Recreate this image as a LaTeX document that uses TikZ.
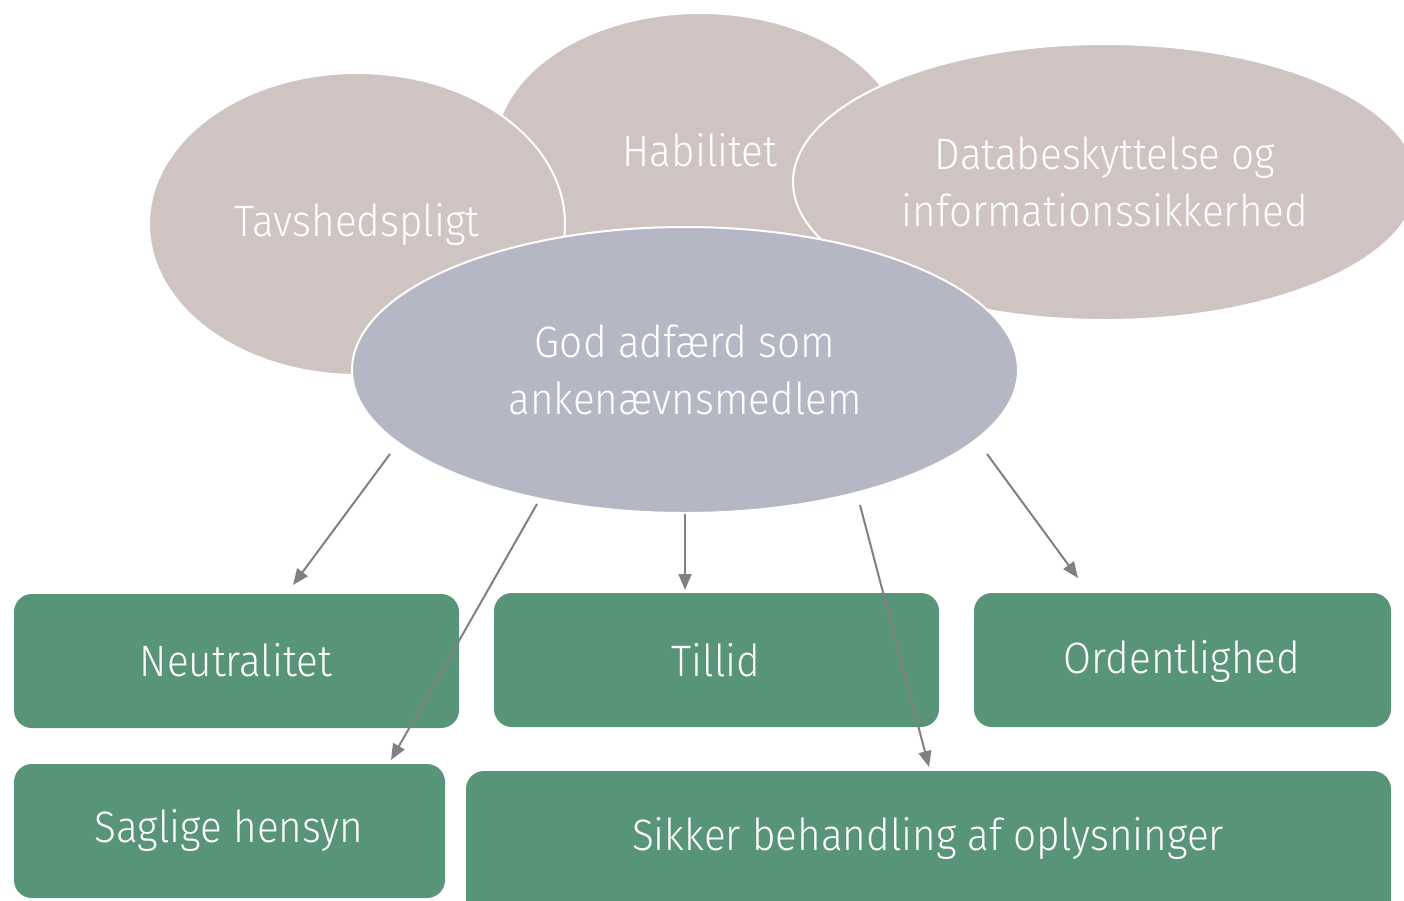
\documentclass[tikz,border=0pt]{standalone}
\usepackage{fontspec}
\setmainfont{Fira Sans}[UprightFont={* Light}, FakeStretch=0.92]
\usetikzlibrary{arrows.meta,shapes.geometric}
\definecolor{beige}{HTML}{D0C4C2}
\definecolor{lav}{HTML}{B6B7C4}
\definecolor{grn}{HTML}{589478}
\definecolor{arr}{HTML}{808080}
\tikzset{
  blob/.style={ellipse, draw=white, line width=2pt, fill=beige, inner sep=0pt,
    text=white, font=\fontsize{44}{57}\selectfont, align=center},
  txt/.style={text=white, font=\fontsize{44}{57}\selectfont, align=center},
  box/.style={rounded corners=18pt, fill=grn, draw=none},
  con/.style={draw=arr, line width=2pt, -{Triangle[length=16pt,width=13pt]}}
}
\begin{document}
\begin{tikzpicture}[x=1pt,y=-1pt]
\useasboundingbox (0,0) rectangle (1404,900);
\clip (0,0) rectangle (1404,900);
% ellipses
\node[blob, minimum width=410pt, minimum height=274pt] (hab) at (700,150) {Habilitet};
\node[blob, minimum width=416pt, minimum height=302pt] (tav) at (357,224) {Tavshedspligt};
\node[blob, minimum width=624pt, minimum height=276pt] (dat) at (1105,182) {Databeskyttelse og\\informationssikkerhed};
\node[blob, fill=lav, minimum width=666pt, minimum height=286pt] (god) at (685,370) {God adfærd som\\ankenævnsmedlem};
% boxes
\path[box] (14,594) rectangle (459,728);
\path[box] (494,593) rectangle (939,727);
\path[box] (974,593) rectangle (1391,727);
\path[box] (14,764) rectangle (445,898);
\path[box] (466,771) rectangle (1391,930);
\node[txt] (neu) at (236,660) {Neutralitet};
\node[txt] (til) at (716,660) {Tillid};
\node[txt] (ord) at (1182,661) {Ordentlighed};
\node[txt] (sag) at (229,830) {Saglige hensyn};
\node[txt] (sik) at (928,838) {Sikker behandling af oplysninger};
% connectors
\coordinate (a1) at (390,454); \coordinate (b1) at (293,585);
\coordinate (a2) at (537,504); \coordinate (b2) at (391,760);
\coordinate (a3) at (685,514); \coordinate (b3) at (685,590);
\coordinate (a4) at (860,505); \coordinate (b4) at (929,767);
\coordinate (a5) at (987,454); \coordinate (b5) at (1078,578);
\draw[con] (a1) -- (b1);
\draw[con] (a2) -- (b2);
\draw[con] (a3) -- (b3);
\draw[con] (a4) -- (b4);
\draw[con] (a5) -- (b5);
\end{tikzpicture}
\end{document}
